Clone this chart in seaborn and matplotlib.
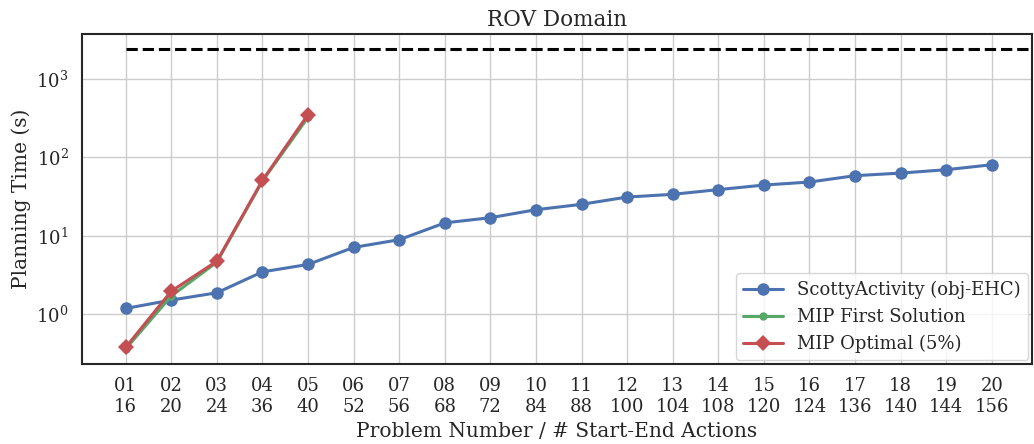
import numpy as np
import pandas as pd
import matplotlib
matplotlib.use("Agg")
import matplotlib.pyplot as plt
import seaborn as sns

# problem ids and number of start-end actions
problems = ["01", "02", "03", "04", "05", "06", "07", "08", "09", "10",
            "11", "12", "13", "14", "15", "16", "17", "18", "19", "20"]
actions = [16, 20, 24, 36, 40, 52, 56, 68, 72, 84,
           88, 100, 104, 108, 120, 124, 136, 140, 144, 156]

# planning times (s)
scotty = [1.18, 1.51, 1.87, 3.46, 4.3, 7.1, 8.9, 14.6, 17.0, 21.5,
          25.2, 31.2, 33.8, 38.8, 44.4, 48.5, 58.5, 63.1, 69.7, 80.7]
mip_first = [0.36, 1.7, 4.6, 50.0, 325.0]
mip_opt = [0.376, 1.96, 4.73, 50.9, 353.0]
timeout = 2400

sns.set_theme(style="whitegrid", palette="deep")
plt.rcParams["font.family"] = ["DejaVu Serif"]
plt.rcParams["axes.edgecolor"] = ".15"
plt.rcParams["axes.linewidth"] = 1.5

colors = sns.color_palette("deep")
x = np.arange(1, len(problems) + 1)

fig, ax = plt.subplots(figsize=(10.34, 4.44), dpi=100)

# timeout line
ax.plot(np.arange(1, 23), [timeout] * 22, color="black", ls="--", lw=2.2)

sns.lineplot(x=x, y=scotty, ax=ax, color=colors[0], marker="o", markersize=9,
             markeredgewidth=0, lw=2.2, label="ScottyActivity (obj-EHC)")
sns.lineplot(x=x[:5], y=mip_first, ax=ax, color=colors[2], marker="o", markersize=6,
             markeredgewidth=0, lw=2.2, label="MIP First Solution")
sns.lineplot(x=x[:5], y=mip_opt, ax=ax, color=colors[3], marker="D", markersize=8,
             markeredgewidth=0, lw=2.2, label="MIP Optimal (5%)")

ax.set_yscale("log")
ax.set_ylim(0.23, 3745)
ax.set_xlim(0.035, 20.88)
ax.minorticks_off()
ax.set_yticks([1, 10, 100, 1000])
ax.set_xticks(x)
ax.set_xticklabels([f"{p}\n{a}" for p, a in zip(problems, actions)])
ax.tick_params(labelsize=13)

ax.set_title("ROV Domain", fontsize=15.5)
ax.set_xlabel("Problem Number / # Start-End Actions", fontsize=14.5)
ax.set_ylabel("Planning Time (s)", fontsize=14.5)

ax.legend(loc="lower right", fontsize=13, borderaxespad=0.2, handlelength=2.2)

plt.subplots_adjust(left=0.079, right=0.998, top=0.923, bottom=0.18)
plt.savefig("out.png", dpi=100)
